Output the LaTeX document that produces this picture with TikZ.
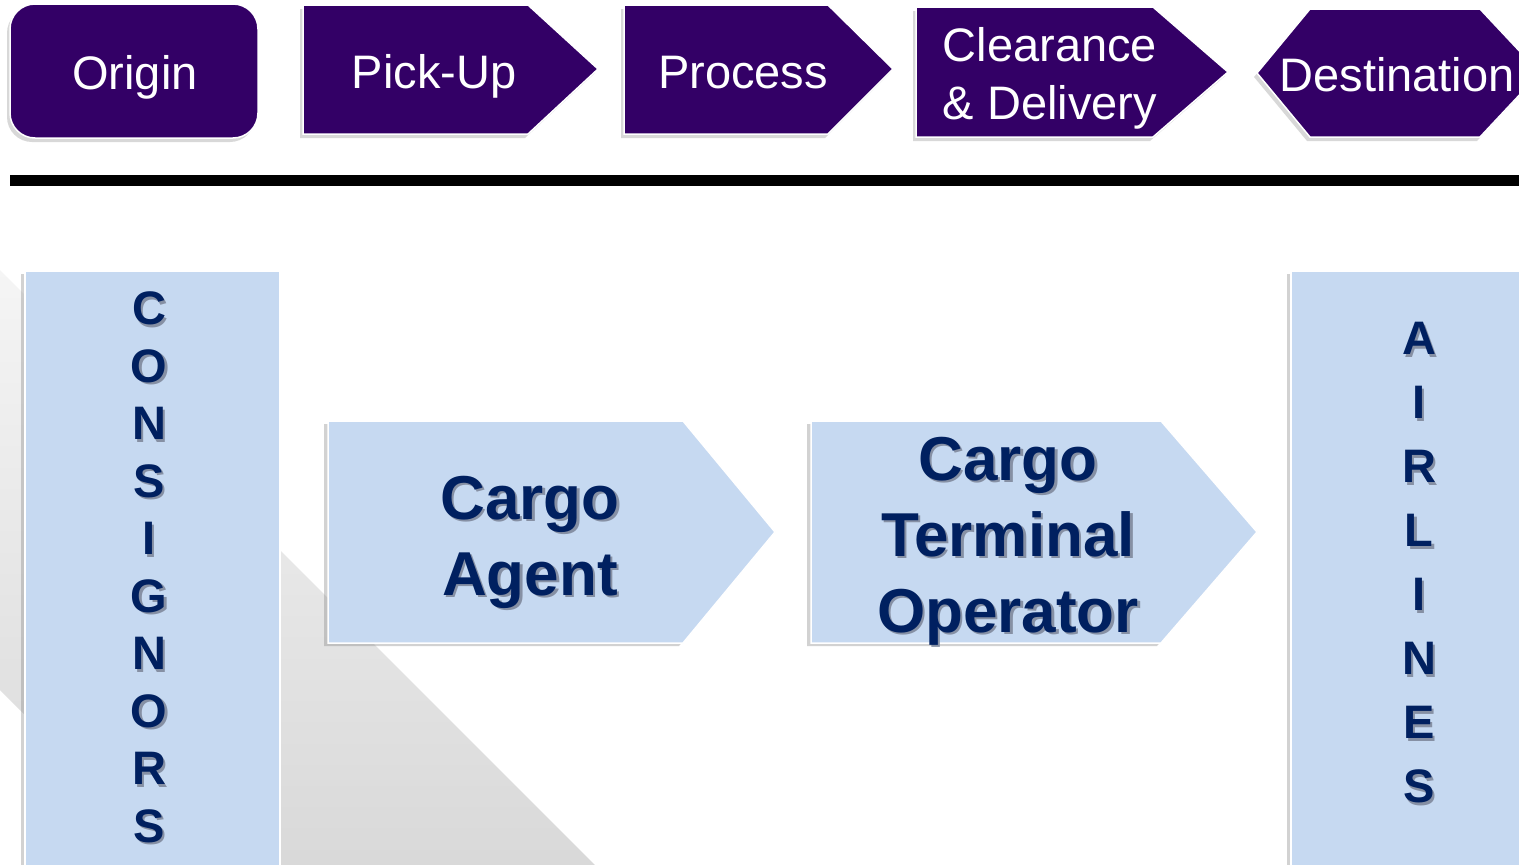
\documentclass[tikz,border=0pt]{standalone}
\usepackage{fontspec}
\setmainfont{Liberation Sans}
\usetikzlibrary{shadows}
\definecolor{purp}{HTML}{330066}
\definecolor{lblue}{HTML}{C6D9F1}
\definecolor{navy}{HTML}{002060}
\definecolor{tshadow}{HTML}{8690A4}
\newcommand\shd[1]{\leavevmode\rlap{\kern2.5pt\raisebox{-2.5pt}{\textcolor{tshadow}{#1}}}#1}
\begin{document}
\begin{tikzpicture}[x=1pt,y=-1pt,
  topbox/.style={fill=purp, draw=white, line width=1.5pt,
    drop shadow={shadow xshift=-3pt, shadow yshift=-4pt, opacity=0.3}},
  botbox/.style={fill=lblue, draw=white, line width=1.5pt,
    drop shadow={shadow xshift=-4pt, shadow yshift=-3pt, opacity=0.35}},
  toptext/.style={text=white, font=\fontsize{47}{58}\selectfont, align=center, inner sep=0pt, anchor=base},
  bigtext/.style={text=navy, font=\fontsize{62}{76}\selectfont\bfseries, align=center, inner sep=0pt, anchor=base},
  vtext/.style={text=navy, font=\fontsize{47}{50}\selectfont\bfseries, inner sep=0pt, anchor=center}]
\useasboundingbox (0,0) rectangle (1519,865);
\clip (0,0) rectangle (1519,865);
\fill[white] (0,0) rectangle (1519,865);
% top row
\draw[topbox, rounded corners=25pt] (10,4) rectangle (258,138);
\node[toptext] (origin) at (135,89) {Origin};
\draw[topbox] (303,5) -- (528,5) -- (598,69) -- (528,134) -- (303,134) -- cycle;
\node[toptext] (pickup) at (434,88) {Pick-Up};
\draw[topbox] (624,5) -- (828,5) -- (893,69) -- (828,134) -- (624,134) -- cycle;
\node[toptext] (process) at (743,88) {Process};
\draw[topbox] (916,7) -- (1153,7) -- (1228,72) -- (1153,137) -- (916,137) -- cycle;
\node[toptext] (clear) at (1050,119) {Clearance\\\& Delivery};
\draw[topbox] (1257,73) -- (1310,9) -- (1480,9) -- (1540,73) -- (1480,137) -- (1310,137) -- cycle;
\node[toptext] (dest) at (1397,91) {Destination};
% separator
\fill[black] (10,175) rectangle (1519,186);
% grey band
\shade[top color=gray!8, bottom color=gray!30] (0,270) -- (595,865) -- (175,865) -- (0,690) -- cycle;
% side columns
\draw[botbox] (25,271) rectangle (280,880);
\foreach \l [count=\i] in {C,O,N,S,I,G,N,O,R,S}
  \node[vtext] (c\i) at (149,252.5+57.5*\i) {\shd{\l}};
\draw[botbox] (1291,271) rectangle (1540,880);
\foreach \l [count=\i] in {A,I,R,L,I,N,E,S}
  \node[vtext] (a\i) at (1419,276+64*\i) {\shd{\l}};
% middle arrows
\draw[botbox] (328,421) -- (683,421) -- (775,532) -- (683,643) -- (328,643) -- cycle;
\node[bigtext] (agent) at (530,595) {\shd{Cargo}\\\shd{Agent}};
\draw[botbox] (811,421) -- (1161,421) -- (1257,532) -- (1161,643) -- (811,643) -- cycle;
\node[bigtext] (cto) at (1008,632) {\shd{Cargo}\\\shd{Terminal}\\\shd{Operator}};
\end{tikzpicture}
\end{document}
